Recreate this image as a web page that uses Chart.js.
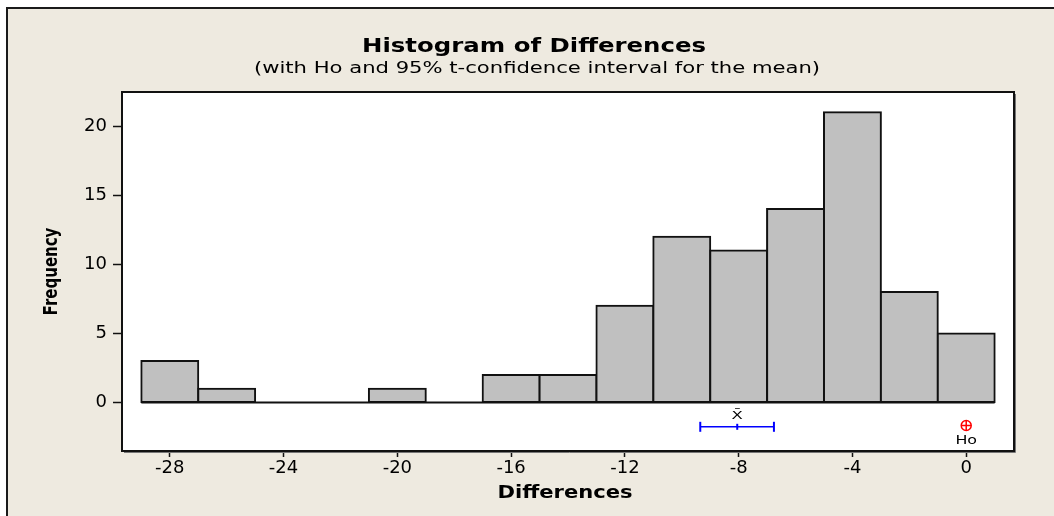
<!DOCTYPE html>
<html>
<head>
<meta charset="utf-8">
<title>Histogram of Differences</title>
<script src="https://cdn.jsdelivr.net/npm/chart.js@4.4.1/dist/chart.umd.min.js"></script>
<style>
  html, body { margin: 0; padding: 0; background: #fff; }
  #wrap { width: 1054px; height: 516px; }
</style>
</head>
<body>
<div id="wrap"><canvas id="histChart" width="1054" height="516"></canvas></div>
<script>
// bins are 2 wide, from -29 to 1
const binCenters = [-28, -26, -24, -22, -20, -18, -16, -14, -12, -10, -8, -6, -4, -2, 0];
const binCounts = [3, 1, 0, 0, 1, 0, 2, 2, 7, 12, 11, 14, 21, 8, 5];
const binRange = [-29, 1];

const xTicks = [-28, -24, -20, -16, -12, -8, -4, 0];
const xTickLabels = ["-28", "-24", "-20", "-16", "-12", "-8", "-4", "0"];
const yTicks = [0, 5, 10, 15, 20];
const yTickLabels = ["0", "5", "10", "15", "20"];

// mean, its 95% t-interval, and the null value Ho
const ciLimits = [-9.35, -6.76];
const meanValue = -8.05;
const hoValue = 0;
const markerLevel = -1.75;

const titleText = "Histogram of Differences";
const subtitleText = "(with Ho and 95% t-confidence interval for the mean)";
const xTitleText = "Differences";
const yTitleText = "Frequency";

function $(id) {
  return document.getElementById(id);
}

Chart.defaults.font.family = "'DejaVu Sans', Verdana, sans-serif";
Chart.defaults.color = "#000";

// the original graph is a bit wider than it is tall, so text is stretched
function wideText(ctx, text, x, y, font, sx, sy, rot) {
  ctx.save();
  ctx.translate(x, y);
  if (rot) ctx.rotate(rot);
  ctx.scale(sx, sy);
  ctx.font = font;
  ctx.fillText(text, 0, 0);
  ctx.restore();
}

/* ---- background, frame, plot box and titles ---- */
const framePlugin = {
  id: "frame",
  beforeDraw(chart) {
    const ctx = chart.ctx;
    const a = chart.chartArea;
    ctx.save();
    ctx.fillStyle = "#fff";
    ctx.fillRect(0, 0, chart.width, chart.height);
    ctx.fillStyle = "#eeeae0";
    ctx.fillRect(7, 8, chart.width - 7, chart.height - 8);
    ctx.strokeStyle = "#1a1a1a";
    ctx.lineWidth = 2;
    ctx.beginPath();
    ctx.moveTo(7, chart.height);
    ctx.lineTo(7, 8);
    ctx.lineTo(chart.width, 8);
    ctx.stroke();

    // plot area
    ctx.fillStyle = "#fff";
    ctx.fillRect(a.left, a.top, a.right - a.left, a.bottom - a.top);

    // titles
    ctx.fillStyle = "#000";
    ctx.textAlign = "center";
    ctx.textBaseline = "alphabetic";
    wideText(ctx, titleText, 534, 52, "bold 20px 'DejaVu Sans'", 1.22, 1);
    wideText(ctx, subtitleText, 537, 73, "16px 'DejaVu Sans'", 1.32, 1);

    // axis titles
    wideText(ctx, xTitleText, 565, 498, "bold 18px 'DejaVu Sans'", 1.17, 1);
    wideText(ctx, yTitleText, 57, (a.top + a.bottom) / 2, "bold 15px 'DejaVu Sans'", 1, 1.35, -Math.PI / 2);
    ctx.restore();
  },
  afterDraw(chart) {
    const ctx = chart.ctx;
    const a = chart.chartArea;
    ctx.save();
    ctx.strokeStyle = "#777";
    ctx.lineWidth = 1;
    ctx.beginPath();
    ctx.moveTo(a.right + 1.5, a.top + 2);
    ctx.lineTo(a.right + 1.5, a.bottom + 1.5);
    ctx.lineTo(a.left + 2, a.bottom + 1.5);
    ctx.stroke();
    ctx.strokeStyle = "#111";
    ctx.lineWidth = 2;
    ctx.strokeRect(a.left, a.top, a.right - a.left, a.bottom - a.top);
    ctx.restore();
  },
};

/* ---- X-bar and Ho labels ---- */
const markerLabels = {
  id: "markerLabels",
  afterDatasetsDraw(chart) {
    const ctx = chart.ctx;
    const x = chart.scales.x;
    const y = chart.scales.y;
    ctx.save();
    ctx.fillStyle = "#000";
    ctx.textAlign = "center";
    ctx.textBaseline = "alphabetic";
    wideText(ctx, "X\u0304", x.getPixelForValue(meanValue), y.getPixelForValue(-1.15), "11px 'DejaVu Sans'", 1.5, 1);
    wideText(ctx, "Ho", x.getPixelForValue(hoValue), y.getPixelForValue(-3.02), "13px 'DejaVu Sans'", 1.22, 1);
    ctx.restore();
  },
};

new Chart($("histChart"), {
  type: "bar",
  data: {
    datasets: [
      {
        type: "bar",
        data: binCenters.map((c, i) => ({ x: c, y: binCounts[i] })),
        backgroundColor: "#c0c0c0",
        borderColor: "#111",
        borderWidth: 2,
        inflateAmount: 1,
        borderSkipped: false,
        barPercentage: 1,
        categoryPercentage: 1,
        order: 3,
      },
      {
        // base line of the histogram
        type: "line",
        data: binRange.map((v) => ({ x: v, y: 0 })),
        borderColor: "#111",
        borderWidth: 2,
        pointRadius: 0,
        fill: false,
        order: 2,
      },
      {
        // confidence interval
        type: "line",
        data: ciLimits.map((v) => ({ x: v, y: markerLevel })),
        borderColor: "#0000ff",
        borderWidth: 1.5,
        pointStyle: "line",
        pointRotation: 90,
        pointRadius: 5,
        pointBorderWidth: 2,
        pointBorderColor: "#0000ff",
        fill: false,
        order: 1,
      },
      {
        // mean
        type: "line",
        data: [{ x: meanValue, y: markerLevel }],
        showLine: false,
        pointStyle: "line",
        pointRotation: 90,
        pointRadius: 3,
        pointBorderWidth: 2,
        pointBorderColor: "#0000ff",
        order: 1,
      },
      {
        // Ho
        type: "line",
        data: [{ x: hoValue, y: markerLevel + 0.09 }],
        showLine: false,
        pointStyle: "circle",
        pointRadius: 5,
        pointBorderWidth: 1.5,
        pointBorderColor: "#ff0000",
        pointBackgroundColor: "rgba(0,0,0,0)",
        order: 1,
      },
      {
        type: "line",
        data: [{ x: hoValue, y: markerLevel + 0.09 }],
        showLine: false,
        pointStyle: "cross",
        pointRadius: 5,
        pointBorderWidth: 1.5,
        pointBorderColor: "#ff0000",
        order: 1,
      },
    ],
  },
  options: {
    responsive: false,
    animation: false,
    layout: { padding: { top: 92, right: 40, bottom: 0, left: 0 } },
    plugins: {
      legend: { display: false },
      tooltip: { enabled: false },
    },
    scales: {
      x: {
        type: "linear",
        min: -29.68,
        max: 1.68,
        offset: false,
        afterBuildTicks: (axis) => {
          axis.ticks = xTicks.map((v) => ({ value: v }));
        },
        afterFit: (axis) => {
          axis.height = 65;
        },
        ticks: {
          callback: (v, i) => xTickLabels[i],
          font: { size: 18 },
          color: "#000",
          padding: 1,
          maxRotation: 0,
          autoSkip: false,
        },
        grid: {
          drawOnChartArea: false,
          offset: false,
          tickLength: 6,
          tickWidth: 1.5,
          tickColor: "#111",
        },
        border: { display: false },
      },
      y: {
        type: "linear",
        min: -3.5,
        max: 22.46,
        afterBuildTicks: (axis) => {
          axis.ticks = yTicks.map((v) => ({ value: v }));
        },
        afterFit: (axis) => {
          axis.width = 122;
        },
        ticks: {
          callback: (v, i) => yTickLabels[i],
          font: { size: 18 },
          color: "#000",
          padding: 6,
        },
        grid: {
          drawOnChartArea: false,
          tickLength: 9,
          tickWidth: 1.5,
          tickColor: "#111",
        },
        border: { display: false },
      },
    },
  },
  plugins: [framePlugin, markerLabels],
});
</script>
</body>
</html>
